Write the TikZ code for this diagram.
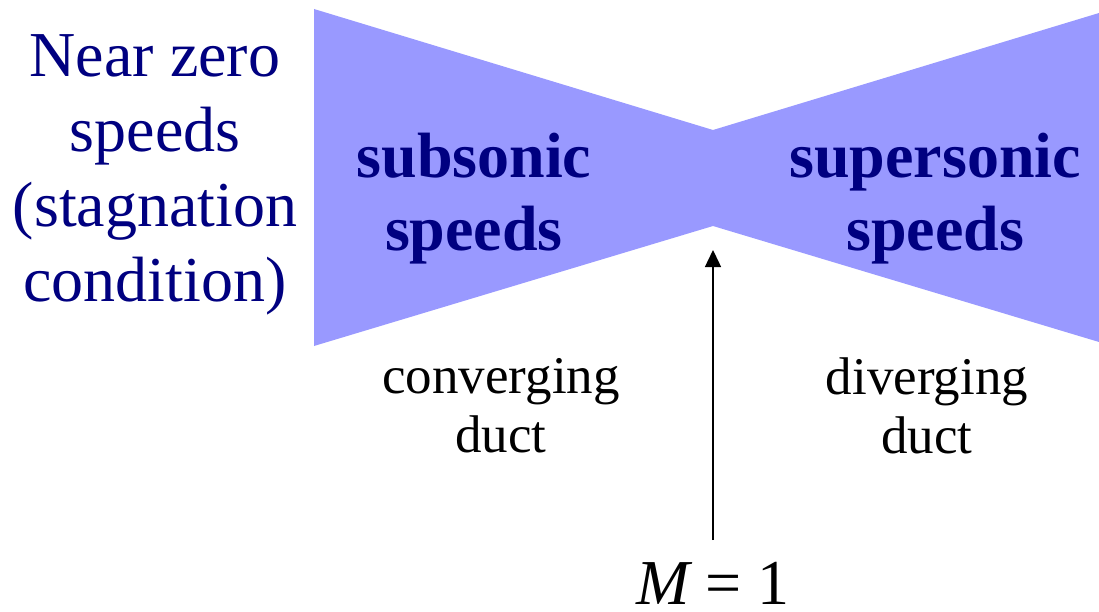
\documentclass[tikz,border=0pt]{standalone}
\usepackage{fontspec}
\setmainfont{Liberation Serif}
\usetikzlibrary{arrows.meta,positioning}
\definecolor{ductc}{HTML}{9999FF}
\definecolor{navyc}{HTML}{000080}
\tikzset{
  big/.style={font=\fontsize{64}{75}\selectfont, align=center, inner sep=0pt},
  regime/.style={font=\fontsize{64}{73}\selectfont\bfseries, text=navyc, align=center, inner sep=0pt},
  ductlab/.style={font=\fontsize{53}{59}\selectfont, align=center, inner sep=0pt},
  flowarrow/.style={-{Triangle[length=17pt, width=16pt]}, line width=1.4pt},
}
\begin{document}
\begin{tikzpicture}[x=1pt, y=-1pt]
  \useasboundingbox (0,0) rectangle (1099,612);
  % nozzle outline
  \coordinate (lt) at (314,9);
  \coordinate (lb) at (314,346);
  \coordinate (tt) at (713,130);
  \coordinate (tb) at (713,226);
  \coordinate (rt) at (1099,13);
  \coordinate (rb) at (1099,342);
  \fill[ductc] (lt) -- (tt) -- (rt) -- (rb) -- (tb) -- (lb) -- cycle;
  % labels
  \node[big, text=navyc] (stag) at (155,175) {Near zero\\speeds\\(stagnation\\condition)};
  \node[regime] (sub) at (474,199) {subsonic\\speeds};
  \node[regime] (sup) at (935,199) {supersonic\\speeds};
  \node[ductlab] (conv) at (501,406) {converging\\duct};
  \node[ductlab] (div) at (927,406) {diverging\\duct};
  \node[big, anchor=base] (mach) at (713,604) {\itshape M\upshape{} = 1};
  % sonic throat arrow
  \coordinate (tail) at (713,540);
  \coordinate (tip) at (713,250);
  \draw[flowarrow] (tail) -- (tip);
\end{tikzpicture}
\end{document}
